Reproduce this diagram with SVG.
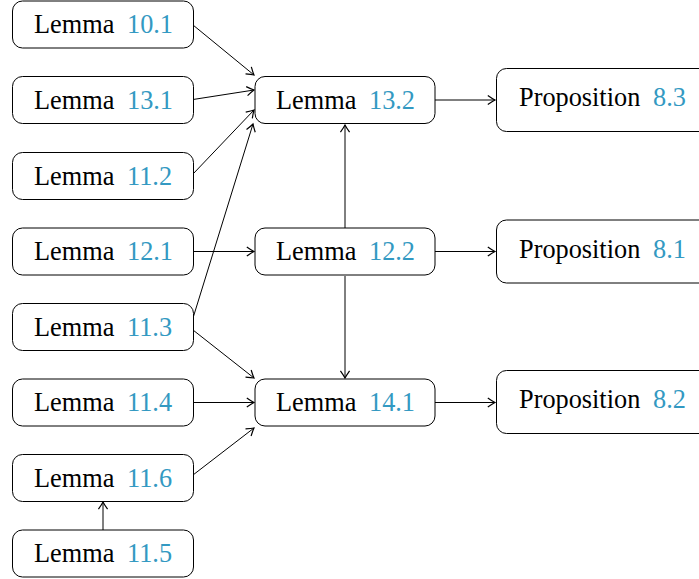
<svg xmlns="http://www.w3.org/2000/svg" width="699" height="579" viewBox="0 0 699 579">
<style>
.box{fill:#fff;stroke:#000;stroke-width:1}
.t{font-family:"Liberation Serif","Times New Roman",serif;font-size:26.3px;fill:#000}
.n{fill:#3399c2}
.e{fill:none;stroke:#000;stroke-width:1;marker-end:url(#ah)}
</style>
<defs>
<marker id="ah" markerUnits="userSpaceOnUse" markerWidth="12" markerHeight="12" refX="0" refY="0" viewBox="-7 -5 8 10" orient="auto" overflow="visible">
<path d="M-6,-3.8 Q-2,-1 0,0 Q-2,1 -6,3.8" fill="none" stroke="#000" stroke-width="1"/>
</marker>
</defs>
<g id="connectors">
<line class="e" x1="193" y1="25" x2="254" y2="75"/>
<line class="e" x1="193" y1="99.5" x2="254" y2="90"/>
<line class="e" x1="193" y1="174" x2="254" y2="110"/>
<line class="e" x1="193" y1="318" x2="253" y2="124"/>
<line class="e" x1="193" y1="251.5" x2="254" y2="251.5"/>
<line class="e" x1="193" y1="330" x2="254" y2="378"/>
<line class="e" x1="193" y1="402.5" x2="254" y2="402.5"/>
<line class="e" x1="193" y1="475" x2="254" y2="428"/>
<line class="e" x1="103" y1="530" x2="103" y2="502"/>
<line class="e" x1="345" y1="228" x2="345" y2="125"/>
<line class="e" x1="345" y1="276" x2="345" y2="378"/>
<line class="e" x1="435" y1="100" x2="495" y2="100"/>
<line class="e" x1="435" y1="251.5" x2="495" y2="251.5"/>
<line class="e" x1="435" y1="402.5" x2="495" y2="402.5"/>
</g>
<g id="l101"><rect class="box" x="12.5" y="1" width="181" height="47" rx="10"/><text class="t" y="33"><tspan x="34">Lemma</tspan><tspan class="n" x="127">10.1</tspan></text></g>
<g id="l131"><rect class="box" x="12.5" y="76.5" width="181" height="47" rx="10"/><text class="t" y="108.5"><tspan x="34">Lemma</tspan><tspan class="n" x="127">13.1</tspan></text></g>
<g id="l112"><rect class="box" x="12.5" y="152.5" width="181" height="47" rx="10"/><text class="t" y="184.5"><tspan x="34">Lemma</tspan><tspan class="n" x="127">11.2</tspan></text></g>
<g id="l121"><rect class="box" x="12.5" y="228" width="181" height="47" rx="10"/><text class="t" y="260"><tspan x="34">Lemma</tspan><tspan class="n" x="127">12.1</tspan></text></g>
<g id="l113"><rect class="box" x="12.5" y="303.5" width="181" height="47" rx="10"/><text class="t" y="335.5"><tspan x="34">Lemma</tspan><tspan class="n" x="127">11.3</tspan></text></g>
<g id="l114"><rect class="box" x="12.5" y="379" width="181" height="47" rx="10"/><text class="t" y="411"><tspan x="34">Lemma</tspan><tspan class="n" x="127">11.4</tspan></text></g>
<g id="l116"><rect class="box" x="12.5" y="454.5" width="181" height="47" rx="10"/><text class="t" y="486.5"><tspan x="34">Lemma</tspan><tspan class="n" x="127">11.6</tspan></text></g>
<g id="l115"><rect class="box" x="12.5" y="530" width="181" height="47" rx="10"/><text class="t" y="562"><tspan x="34">Lemma</tspan><tspan class="n" x="127">11.5</tspan></text></g>
<g id="l132"><rect class="box" x="255" y="76.5" width="180" height="47" rx="10"/><text class="t" y="108.5"><tspan x="276">Lemma</tspan><tspan class="n" x="369">13.2</tspan></text></g>
<g id="l122"><rect class="box" x="255" y="228" width="180" height="47" rx="10"/><text class="t" y="260"><tspan x="276">Lemma</tspan><tspan class="n" x="369">12.2</tspan></text></g>
<g id="l141"><rect class="box" x="255" y="379" width="180" height="47" rx="10"/><text class="t" y="411"><tspan x="276">Lemma</tspan><tspan class="n" x="369">14.1</tspan></text></g>
<g id="p83"><rect class="box" x="496.5" y="68.5" width="215" height="63" rx="10"/><text class="t" y="106"><tspan x="519">Proposition</tspan><tspan class="n" x="653">8.3</tspan></text></g>
<g id="p81"><rect class="box" x="496.5" y="220" width="215" height="63" rx="10"/><text class="t" y="257.5"><tspan x="519">Proposition</tspan><tspan class="n" x="653">8.1</tspan></text></g>
<g id="p82"><rect class="box" x="496.5" y="370.5" width="215" height="63" rx="10"/><text class="t" y="408"><tspan x="519">Proposition</tspan><tspan class="n" x="653">8.2</tspan></text></g>
</svg>
